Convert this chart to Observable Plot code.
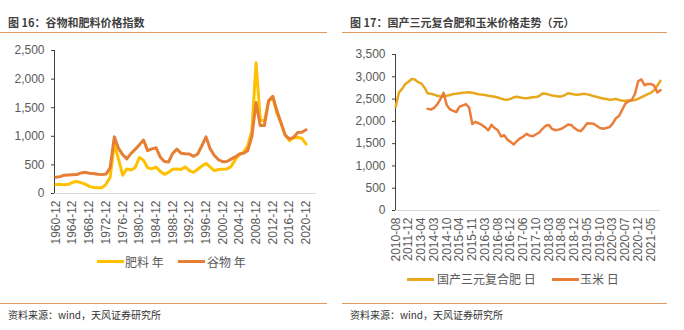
<!DOCTYPE html>
<html><head><meta charset="utf-8">
<script src="https://cdn.jsdelivr.net/npm/d3@7"></script>
<script src="https://cdn.jsdelivr.net/npm/@observablehq/plot@0.6"></script>
<style>
body{margin:0;background:#fff;}
#root{position:relative;width:684px;height:330px;overflow:hidden;font-family:"Noto Sans CJK SC","Noto Sans",sans-serif;background:#fff;}
.title{position:absolute;top:14px;font-size:11px;font-weight:bold;color:#3f3f3f;line-height:16px;white-space:nowrap;}
.rule{position:absolute;height:1px;background:#E29A5A;}
.src{position:absolute;top:308px;font-size:10px;color:#333;line-height:14px;white-space:nowrap;}
.leg{position:absolute;font-size:12px;color:#595959;line-height:16px;white-space:nowrap;}
.sw{position:absolute;height:3px;width:27px;}
.plot{position:absolute;}
</style></head>
<body>
<div id="root">
  <div class="title" style="left:8px">图 16：谷物和肥料价格指数</div>
  <div class="rule" style="left:0;width:327px;top:32px"></div>
  <div class="title" style="left:350px">图 17：国产三元复合肥和玉米价格走势（元）</div>
  <div class="rule" style="left:342px;width:325px;top:32px"></div>
  <div id="p1" class="plot" style="left:0;top:40px"></div>
  <div id="p2" class="plot" style="left:342px;top:40px"></div>
  <div class="sw" style="left:97px;top:260px;background:#FFC000"></div>
  <div class="leg" style="left:125px;top:254px">肥料 年</div>
  <div class="sw" style="left:178px;top:260px;background:#E67E35"></div>
  <div class="leg" style="left:207px;top:254px">谷物 年</div>
  <div class="sw" style="left:407px;top:277.5px;background:#E8A81E"></div>
  <div class="leg" style="left:437px;top:271px">国产三元复合肥 日</div>
  <div class="sw" style="left:552px;top:277.5px;background:#EB7D3A"></div>
  <div class="leg" style="left:580px;top:271px">玉米 日</div>
  <div class="rule" style="left:0;width:327px;top:303px"></div>
  <div class="rule" style="left:342px;width:325px;top:303px"></div>
  <div class="src" style="left:8px">资料来源：wind，天风证券研究所</div>
  <div class="src" style="left:350px">资料来源：wind，天风证券研究所</div>
</div>
<script>
// ---- Figure 16: annual indices 1960-2020 ----
const firstYear = 1960;
const fertilizerIndex = [
  157,157,155,160,195,209,190,165,125,105,
  99,99,160,284,870,600,320,430,410,450,
  630,580,450,430,460,390,335,370,425,430,
  420,465,400,370,425,480,525,460,400,420,
  425,430,470,590,680,720,835,1096,2285,1300,
  1260,1600,1690,1400,1230,1020,925,975,980,965,864
];
const grainIndex = [
  284,295,320,325,328,330,360,372,355,350,
  335,330,340,450,990,790,680,605,700,770,
  850,935,750,780,800,640,560,550,700,775,
  705,695,690,650,690,835,990,780,665,590,
  557,560,600,640,690,705,750,1000,1590,1190,
  1190,1620,1700,1450,1230,1020,955,980,1065,1070,1115
];
const yearTicks = [1960,1964,1968,1972,1976,1980,1984,1988,1992,1996,2000,2004,2008,2012,2016,2020];
const yTicks1 = [0,500,1000,1500,2000,2500];

// ---- Figure 17: daily prices, sampled 4 per label interval ----
const dateLabels = ["2010-08","2011-12","2013-04","2014-03","2014-10","2015-04","2015-11","2016-03","2016-08","2016-12","2017-06","2017-10","2018-03","2018-08","2018-12","2019-05","2019-10","2020-03","2020-07","2020-12","2021-05"];
const samplesPerLabel = 4;
const compoundFert = [
  2330,2650,2730,2840, 2890,2950,2940,2880, 2850,2760,2630,2620, 2600,2575,2560,2555,
  2575,2590,2615,2620, 2630,2640,2645,2655, 2640,2625,2610,2600, 2590,2575,2565,2550,
  2535,2510,2490,2485, 2505,2540,2550,2535, 2525,2520,2530,2540, 2545,2570,2625,2620,
  2600,2580,2570,2560, 2560,2590,2630,2620, 2600,2595,2610,2620, 2605,2590,2565,2550,
  2530,2515,2500,2485, 2490,2505,2480,2465, 2465,2470,2470,2480, 2505,2545,2575,2610,
  2640,2700,2800,2910
];
const cornStartSample = 10;
const corn = [
  2280,2265,
  2300,2380,2500,2640, 2360,2270,2235,2210, 2330,2360,2385,2310, 1940,1990,1955,1920,
  1870,1800,1920,1850, 1800,1660,1690,1590, 1540,1480,1560,1620, 1660,1720,1680,1665,
  1710,1750,1830,1900, 1920,1830,1800,1815, 1835,1880,1930,1920, 1850,1800,1780,1860,
  1955,1950,1945,1900, 1850,1835,1850,1870, 1950,2070,2120,2260, 2400,2450,2480,2620,
  2900,2940,2810,2840, 2840,2800,2650,2700
];
const yTicks2 = [0,500,1000,1500,2000,2500,3000,3500];

const C = {fert1:"#FFC000", grain:"#E67E35", fert2:"#E8A81E", corn:"#EB7D3A", axis:"#404040", base:"#D9D9D9", text:"#595959"};
const style = {fontFamily:"'Liberation Sans', Arial, sans-serif", fontSize:"12px", color:C.text, background:"transparent", overflow:"visible"};

const fertRows = fertilizerIndex.map((v,i)=>({year:firstYear+i, value:v}));
const grainRows = grainIndex.map((v,i)=>({year:firstYear+i, value:v}));

const p1 = Plot.plot({
  width:330, height:205, marginLeft:54, marginRight:14, marginTop:10, marginBottom:52,
  style,
  x:{domain:[1959.65, 2022.5]},
  y:{domain:[0,2500]},
  marks:[
    Plot.ruleY([0], {stroke:C.base}),
    Plot.ruleX([1959.65], {stroke:C.axis}),
    Plot.axisY({ticks:yTicks1, tickFormat:d3.format(","), tickSize:3, tickPadding:7, stroke:C.axis, label:null}),
    Plot.axisX({ticks:yearTicks, tickFormat:d=>d+"-12", tickRotate:-90, tickSize:0, tickPadding:7, label:null}),
    Plot.line(fertRows, {x:"year", y:"value", stroke:C.fert1, strokeWidth:3}),
    Plot.line(grainRows, {x:"year", y:"value", stroke:C.grain, strokeWidth:3})
  ]
});
document.getElementById("p1").appendChild(p1);

const fertRows2 = compoundFert.map((v,i)=>({t:i/samplesPerLabel, value:v}));
const cornRows = corn.map((v,i)=>({t:(i+cornStartSample)/samplesPerLabel, value:v}));
const lastT = (compoundFert.length-1)/samplesPerLabel;

const p2 = Plot.plot({
  width:330, height:230, marginLeft:53, marginRight:12, marginTop:14, marginBottom:60,
  style,
  x:{domain:[-0.02, lastT]},
  y:{domain:[0,3500]},
  marks:[
    Plot.ruleY([0], {stroke:C.base}),
    Plot.ruleX([-0.02], {stroke:C.axis}),
    Plot.axisY({ticks:yTicks2, tickFormat:d3.format(","), tickSize:3, tickPadding:7, stroke:C.axis, label:null}),
    Plot.axisX({ticks:dateLabels.map((d,i)=>i), tickFormat:i=>dateLabels[i], tickRotate:-90, tickSize:0, tickPadding:7, label:null}),
    Plot.line(fertRows2, {x:"t", y:"value", stroke:C.fert2, strokeWidth:2.5}),
    Plot.line(cornRows, {x:"t", y:"value", stroke:C.corn, strokeWidth:2.5})
  ]
});
document.getElementById("p2").appendChild(p2);
</script>
</body></html>
